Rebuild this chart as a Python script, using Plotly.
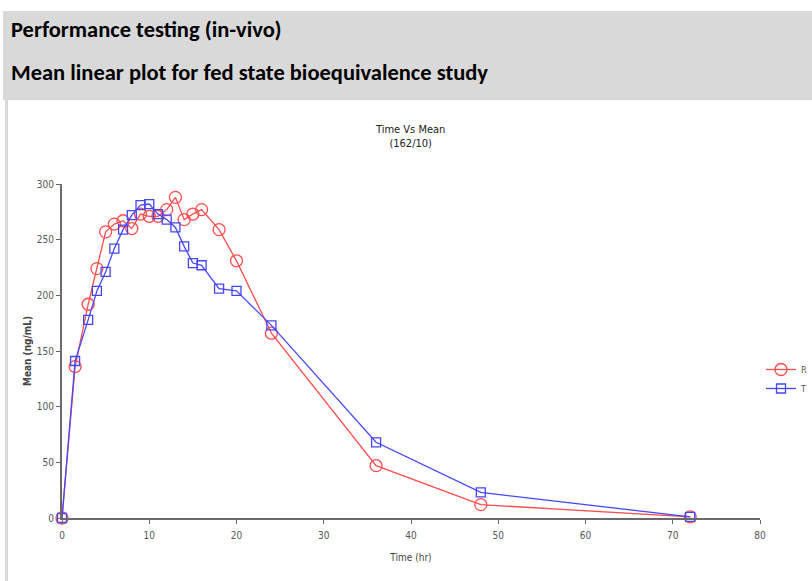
import plotly.graph_objects as go

W, H = 812, 581

time_hr = [0, 1.5, 3, 4, 5, 6, 7, 8, 9, 10, 11, 12, 13, 14, 15, 16, 18, 20, 24, 36, 48, 72]
mean_R = [0, 136, 192, 224, 257, 264, 267, 260, 273, 271, 271, 277, 288, 268, 273, 277, 259, 231, 166, 47, 12, 1]
mean_T = [0, 141, 178, 204, 221, 242, 259, 272, 281, 282, 273, 268, 261, 244, 229, 227, 206, 204, 173, 68, 23, 1]

x_ticks = [0, 10, 20, 30, 40, 50, 60, 70, 80]
y_ticks = [0, 50, 100, 150, 200, 250, 300]

def px_x(p):
    return p / W

def px_y(p):
    return 1 - p / H

NARROW = "Liberation Sans Narrow, Arial Narrow, DejaVu Sans Condensed, sans-serif"
HEAD = "Carlito, Calibri, Open Sans, Liberation Sans, sans-serif"

fig = go.Figure()
fig.add_trace(go.Scatter(
    x=time_hr, y=mean_R, name="R", mode="lines+markers",
    line=dict(color="rgb(255,75,75)", width=1.3),
    marker=dict(symbol="circle-open", size=12, color="rgb(255,75,75)", line=dict(width=1.3)),
    cliponaxis=False,
))
fig.add_trace(go.Scatter(
    x=time_hr, y=mean_T, name="T", mode="lines+markers",
    line=dict(color="rgb(70,70,255)", width=1.3),
    marker=dict(symbol="square-open", size=9, color="rgb(70,70,255)", line=dict(width=1.3)),
    cliponaxis=False,
))

axis_common = dict(
    showgrid=False, zeroline=False, showline=True, linecolor="#6a6a6a", linewidth=2,
    ticks="outside", ticklen=4, tickwidth=1, tickcolor="#6a6a6a", automargin=False,
    tickfont=dict(family=NARROW, size=10, color="#555555"),
)
fig.update_xaxes(
    range=[0, 80], tickmode="array", tickvals=x_ticks, ticktext=[str(v) for v in x_ticks],
    domain=[px_x(62), px_x(760)], ticklabelstandoff=3,
    title=dict(text="Time (hr)", font=dict(family=NARROW, size=10, color="#444444"), standoff=14),
    **axis_common,
)
fig.update_yaxes(
    range=[0, 300], tickmode="array", tickvals=y_ticks, ticktext=[str(v) for v in y_ticks],
    domain=[px_y(518), px_y(184)],
    title=dict(text="<b>Mean (ng/mL)</b>", font=dict(family=NARROW, size=10, color="#444444"), standoff=3),
    **axis_common,
)

shapes = [
    dict(type="rect", xref="paper", yref="paper", x0=px_x(3), x1=1, y0=px_y(100), y1=px_y(11),
         fillcolor="#d9d9d9", line=dict(width=0), layer="below"),
    dict(type="rect", xref="paper", yref="paper", x0=px_x(5), x1=px_x(8), y0=0, y1=px_y(100),
         fillcolor="#d9d9d9", line=dict(width=0), layer="below"),
]

annotations = [
    dict(text="<b>Performance testing (in-vivo)</b>", x=px_x(9), y=px_y(30), xref="paper", yref="paper",
         xanchor="left", yanchor="middle", showarrow=False, font=dict(family=HEAD, size=22.5, color="#000000")),
    dict(text="<b>Mean linear plot for fed state bioequivalence study</b>", x=px_x(9), y=px_y(73),
         xref="paper", yref="paper", xanchor="left", yanchor="middle", showarrow=False,
         font=dict(family=HEAD, size=22.5, color="#000000")),
    dict(text="Time Vs Mean<br>(162/10)", x=px_x(410), y=px_y(136), xref="paper", yref="paper",
         xanchor="center", yanchor="middle", showarrow=False,
         font=dict(family=NARROW, size=11, color="#222222")),
]

fig.update_layout(
    width=W, height=H, margin=dict(l=0, r=0, t=0, b=0, autoexpand=False),
    paper_bgcolor="white", plot_bgcolor="white",
    shapes=shapes, annotations=annotations,
    showlegend=True,
    legend=dict(x=1, y=px_y(355), xanchor="right", yanchor="top",
                font=dict(family=NARROW, size=9, color="#555555"),
                itemwidth=30, tracegroupgap=0, bgcolor="rgba(0,0,0,0)"),
)

fig.write_html(
    "out.html",
    config={"displayModeBar": False},
    post_script="document.body.style.margin='0';document.body.style.overflow='hidden';",
)
